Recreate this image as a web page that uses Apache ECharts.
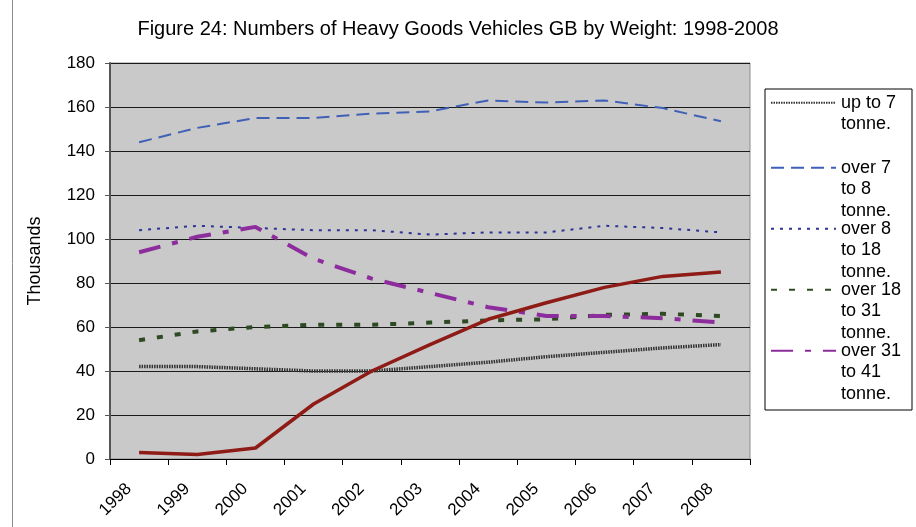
<!DOCTYPE html>
<html>
<head>
    <meta charset="utf-8">
    <title>Heavy Goods Vehicles GB by Weight</title>
    <script src="https://cdn.jsdelivr.net/npm/echarts@6/dist/echarts.min.js"></script>
</head>
<style>
    body { margin: 0; background: #fff; }
    #main { width: 916px; height: 527px; }
</style>
<body>
<div id="main"></div>
<script type="text/javascript">
    // values, thousands of vehicles
    var years = ['1998','1999','2000','2001','2002','2003','2004','2005','2006','2007','2008'];
    var upTo7    = [42, 42, 41, 40, 40, 42, 44, 46.5, 48.5, 50.5, 52];
    var over7to8 = [144, 150.5, 155, 155, 157, 158, 163, 162, 163, 159.5, 153.5];
    var over8to18 = [104, 106, 105, 104, 104, 102, 103, 103, 106, 105, 103];
    var over18to31 = [54, 58, 60, 61, 61, 62, 63, 63.5, 65.5, 66, 65];
    var over31to41 = [94, 101, 105.5, 91, 82, 75.5, 69, 65, 65, 64, 62];
    var over41 = [3, 2, 5, 25, 40, 52, 63.5, 71, 78, 83, 85];

    var names = ['up to 7 tonne.', 'over 7 to 8 tonne.', 'over 8 to 18 tonne.',
                 'over 18 to 31 tonne.', 'over 31 to 41 tonne.', 'over 41 tonne.'];
    // leading blank lines put the legend line next to the first text line
    var legendText = {
        'up to 7 tonne.': '\nup to 7\ntonne.',
        'over 7 to 8 tonne.': '\n\nover 7\nto 8\ntonne.',
        'over 8 to 18 tonne.': '\n\nover 8\nto 18\ntonne.',
        'over 18 to 31 tonne.': '\n\nover 18\nto 31\ntonne.',
        'over 31 to 41 tonne.': '\n\nover 31\nto 41\ntonne.'
    };

    var myChart = echarts.init(document.getElementById('main'));
    var font = '"Liberation Sans", Arial, sans-serif';

    function line(name, data, color, width, type) {
        return {
            name: name,
            type: 'line',
            data: data,
            symbol: 'none',
            animation: false,
            lineStyle: { color: color, width: width, type: type },
            itemStyle: { color: color }
        };
    }

    var option = {
        textStyle: { fontFamily: font, color: '#000' },
        title: {
            text: 'Figure 24: Numbers of Heavy Goods Vehicles GB by Weight: 1998-2008',
            left: 'center',
            top: 14,
            textStyle: { fontFamily: font, fontSize: 20, fontWeight: 'normal', color: '#000' }
        },
        legend: {
            orient: 'vertical',
            left: 770,
            top: 45,
            padding: 0,
            itemGap: -46.5,
            itemWidth: 65,
            itemHeight: 14,
            selectedMode: false,
            itemStyle: { opacity: 0 },
            formatter: function (n) { return legendText[n]; },
            textStyle: { fontFamily: font, fontSize: 18, lineHeight: 21.5, color: '#000' },
            data: [
                { name: names[0], textStyle: { padding: [25.5, 0, 25.5, 0] } },
                names[1], names[2], names[3], names[4]
            ]
        },
        grid: {
            left: 110, right: 166, top: 63, bottom: 68,
            show: true,
            backgroundColor: '#c9c9c9',
            borderColor: '#8c8c8c',
            borderWidth: 1
        },
        xAxis: {
            type: 'category',
            data: years,
            boundaryGap: true,
            axisLine: { lineStyle: { color: '#000', width: 1 } },
            axisTick: { show: true, length: 6, lineStyle: { color: '#000' } },
            axisLabel: { rotate: 45, interval: 0, fontSize: 17, color: '#000', margin: 17, padding: [0, 14.5, 0, 0] }
        },
        yAxis: {
            type: 'value',
            min: 0, max: 180, interval: 20,
            name: 'Thousands',
            nameLocation: 'middle',
            nameRotate: 90,
            nameGap: 66,
            nameTextStyle: { fontSize: 18, color: '#000' },
            axisLine: { show: true, lineStyle: { color: '#555', width: 2 } },
            axisTick: { show: true, length: 5, lineStyle: { color: '#555' } },
            axisLabel: { fontSize: 17, color: '#000', margin: 15 },
            splitLine: { lineStyle: { color: '#1a1a1a', width: 1 } }
        },
        graphic: [
            { type: 'rect', shape: { x: 765, y: 89, width: 147, height: 321 },
              style: { fill: 'none', stroke: '#000', lineWidth: 1 }, z: 10 },
            { type: 'line', shape: { x1: 12.5, y1: 0, x2: 12.5, y2: 527 },
              style: { stroke: '#8c8c8c', lineWidth: 1 } }
        ],
        series: [
            line(names[0], upTo7, '#333', 3.5, [1.5, 1]),
            line(names[1], over7to8, '#4060b8', 2, [13, 7]),
            line(names[2], over8to18, '#2c3494', 2, [3, 6]),
            line(names[3], over18to31, '#2e4a22', 4, [6, 12]),
            line(names[4], over31to41, '#8d2c9c', 4, [22, 12, 6, 12]),
            line(names[5], over41, '#8e1b16', 3.5, 'solid')
        ]
    };
    myChart.setOption(option);
</script>
</body>
</html>
